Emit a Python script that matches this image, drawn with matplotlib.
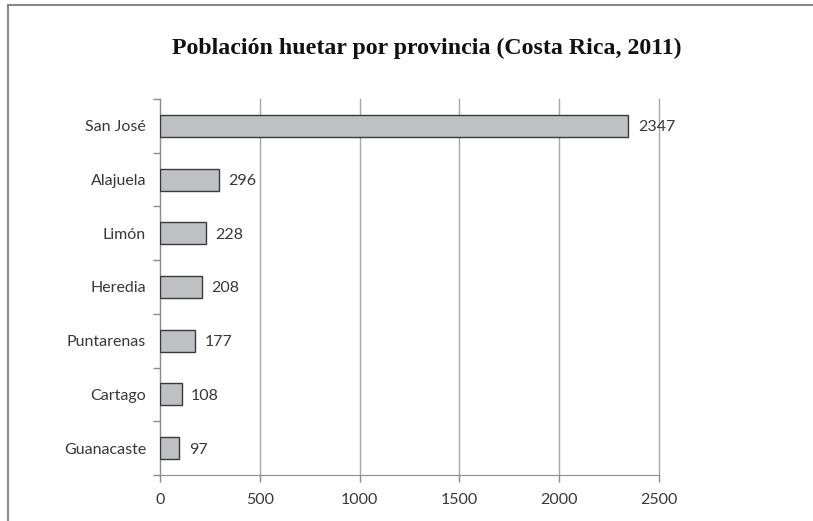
import matplotlib.pyplot as plt
from matplotlib.lines import Line2D
import numpy as np

provincias = ['San José', 'Alajuela', 'Limón', 'Heredia', 'Puntarenas', 'Cartago', 'Guanacaste']
poblacion = [2347, 296, 228, 208, 177, 108, 97]
xticks = [0, 500, 1000, 1500, 2000, 2500]

plt.rcParams['font.family'] = ['Lato', 'DejaVu Sans']
text_col = '#383838'

fig = plt.figure(figsize=(8.13, 5.21), dpi=100)
ax = fig.add_axes([160 / 813, 1 - 475 / 521, 499 / 813, 376 / 521])

y = np.arange(len(provincias))[::-1]
ax.barh(y, poblacion, height=0.41, color='#bfc0c4', edgecolor='#3a3a3a', linewidth=1.0, zorder=3)
for yi, v in zip(y, poblacion):
    ax.text(v + 47, yi, str(v), va='center_baseline', ha='left', fontsize=11.5, color=text_col, zorder=4)

ax.set_xlim(0, 2500)
ax.set_ylim(-0.5, len(provincias) - 0.5)
ax.set_xticks(xticks)
ax.set_xticklabels([str(t) for t in xticks], fontsize=11.5, color=text_col)
ax.set_yticks(y)
ax.set_yticklabels(provincias, fontsize=11.5, color=text_col, va='center_baseline')
ax.set_yticks(np.arange(-0.5, len(provincias)), minor=True)
ax.tick_params(axis='y', which='major', length=0, pad=10)
ax.tick_params(axis='y', which='minor', length=5, color='#8c8c8c', width=1)
ax.tick_params(axis='x', length=5, color='#8c8c8c', width=1, pad=8)

ax.grid(axis='x', color='#a6a6a6', linewidth=1, zorder=0)
for gl in ax.get_xgridlines():
    gl.set_clip_on(False)
for s in ['top', 'right']:
    ax.spines[s].set_visible(False)
ax.spines['left'].set_color('#8c8c8c')
ax.spines['bottom'].set_color('#8c8c8c')

fig.text(0.525, 1 - 48 / 521, 'Población huetar por provincia (Costa Rica, 2011)',
         ha='center', va='center', fontsize=17.2, fontweight='bold',
         family='Liberation Serif', color='#111111')

# marco de la figura
fig.add_artist(Line2D([8 / 813, 8 / 813], [0, 1 - 5 / 521], transform=fig.transFigure,
                      color='#8a8a8a', linewidth=1.5))
fig.add_artist(Line2D([8 / 813, 1], [1 - 5 / 521, 1 - 5 / 521], transform=fig.transFigure,
                      color='#8a8a8a', linewidth=1.5))

fig.savefig('out.png', dpi=100)
